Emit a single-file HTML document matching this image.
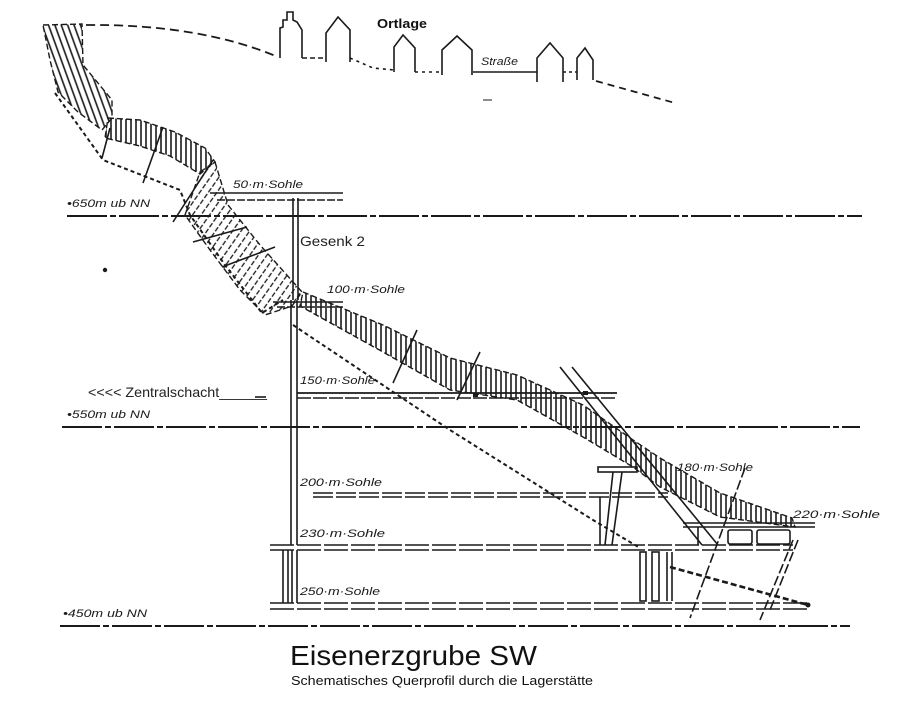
<!DOCTYPE html>
<html><head><meta charset="utf-8"><style>
html,body{margin:0;padding:0;background:#fff;}
svg{display:block;}
.hw{font-family:"Liberation Sans",sans-serif;font-style:italic;font-size:11px;fill:#1a1a1a;}
</style></head><body>
<svg width="900" height="712" viewBox="0 0 900 712" xmlns="http://www.w3.org/2000/svg">
<defs>
<pattern id="hv" patternUnits="userSpaceOnUse" width="5" height="6"><line x1="1" y1="0" x2="1" y2="6" stroke="#1a1a1a" stroke-width="1.6"/></pattern>
<pattern id="hd" patternUnits="userSpaceOnUse" width="6" height="6" patternTransform="rotate(-20)"><line x1="1" y1="0" x2="1" y2="6" stroke="#1a1a1a" stroke-width="1.6"/></pattern>
<pattern id="hs" patternUnits="userSpaceOnUse" width="7" height="7" patternTransform="rotate(35)"><line x1="1" y1="0" x2="1" y2="7" stroke="#1a1a1a" stroke-width="1.3" stroke-dasharray="3 2"/></pattern>
</defs>
<rect width="900" height="712" fill="#fff"/>

<g fill="none" stroke="#1a1a1a" stroke-width="1.6">
<!-- surface -->
<path d="M86,25 Q200,24 278,57" stroke-dasharray="9 5" stroke-width="1.8"/>
<polyline points="280,58 280,28 283,27 283,20 287,20 287,12 293,12 293,20 297,22 302,30 302,58"/>
<line x1="302" y1="58" x2="326" y2="58" stroke-dasharray="5 3"/>
<polyline points="326,62 326,33 338,17 350,30 350,62"/>
<polyline points="350,58 373,68 394,70" stroke-dasharray="3 4"/>
<polyline points="394,72 394,47 403,35 415,48 415,72"/>
<line x1="415" y1="72" x2="442" y2="72" stroke-dasharray="3 4"/>
<polyline points="442,75 442,50 457,36 472,50 472,75"/>
<line x1="473" y1="72" x2="537" y2="72"/>
<polyline points="537,82 537,58 550,43 563,58 563,82"/>
<line x1="563" y1="72" x2="577" y2="72" stroke-dasharray="3 3"/>
<polyline points="577,80 577,58 585,48 593,60 593,80"/>
<line x1="596" y1="81" x2="675" y2="103" stroke-dasharray="7 5" stroke-width="1.8"/>
<line x1="483" y1="100" x2="492" y2="100" stroke-width="1"/>

<!-- datum lines -->
<line x1="67" y1="216" x2="862" y2="216" stroke-width="2" stroke-dasharray="40 3 6 3"/>
<line x1="62" y1="427" x2="860" y2="427" stroke-width="2" stroke-dasharray="40 3 6 3"/>
<line x1="60" y1="626" x2="850" y2="626" stroke-width="2" stroke-dasharray="40 3 6 3"/>
</g>

<!-- ore bands -->
<g stroke="#1a1a1a" stroke-width="1.4" stroke-dasharray="6 3">
<polygon points="43,25 82,24 83,65 112,100 112,118 102,130 78,112 58,92 50,60" fill="url(#hd)"/>
<polygon points="108,118 140,120 175,132 205,148 215,162 200,174 170,156 140,146 105,138" fill="url(#hv)"/>
<polygon points="200,172 215,162 228,205 260,245 302,292 292,306 265,315 240,290 210,250 185,215" fill="url(#hs)"/>
<polygon points="303,292 383,325 450,358 517,375 583,405 633,440 660,458 720,493 792,518 795,527 720,517 660,487 633,467 583,437 517,400 450,390 383,352 300,306" fill="url(#hv)"/>
</g>

<g fill="none" stroke="#1a1a1a" stroke-width="1.6">
<!-- ticked footwall lines -->
<polyline points="55,93 103,160 180,190 190,215 225,265 262,313 283,300" stroke-dasharray="4 3" stroke-width="2"/>
<polyline points="293,325 450,430 593,520 640,548" stroke-dasharray="4 3" stroke-width="2"/>
<line x1="670" y1="567" x2="808" y2="605" stroke-dasharray="6 3" stroke-width="2.6"/>

<!-- section lines -->
<line x1="213" y1="160" x2="173" y2="222"/>
<line x1="163" y1="127" x2="143" y2="183"/>
<line x1="110" y1="128" x2="102" y2="158"/>
<line x1="193" y1="242" x2="247" y2="227"/>
<line x1="222" y1="267" x2="275" y2="247"/>
<line x1="417" y1="330" x2="393" y2="383"/>
<line x1="480" y1="352" x2="457" y2="400"/>
<line x1="745" y1="468" x2="690" y2="618" stroke-dasharray="10 3"/>
<line x1="793" y1="540" x2="760" y2="620" stroke-dasharray="10 3"/>
<line x1="798" y1="540" x2="770" y2="610" stroke-dasharray="10 3"/>

<!-- inclined double shaft -->
<line x1="560" y1="367" x2="702" y2="545"/>
<line x1="572" y1="367" x2="718" y2="545"/>

<!-- shafts -->
<line x1="293" y1="198" x2="293" y2="300"/>
<line x1="298" y1="198" x2="298" y2="300"/>
<line x1="291" y1="300" x2="291" y2="545"/>
<line x1="297" y1="300" x2="297" y2="545"/>
<line x1="283" y1="550" x2="283" y2="603"/>
<line x1="288" y1="550" x2="288" y2="603"/>
<line x1="292" y1="550" x2="292" y2="603"/>
<line x1="297" y1="550" x2="297" y2="603"/>

<!-- levels -->
<line x1="210" y1="193" x2="343" y2="193"/>
<line x1="217" y1="200" x2="343" y2="200" stroke-dasharray="8 2"/>
<line x1="273" y1="302" x2="343" y2="302"/>
<line x1="277" y1="307" x2="343" y2="307" stroke-dasharray="8 2"/>
<line x1="297" y1="393" x2="617" y2="393" stroke-width="1.8"/>
<line x1="297" y1="398" x2="617" y2="398" stroke-dasharray="14 2"/>
<line x1="255" y1="397" x2="266" y2="397"/>
<line x1="313" y1="493" x2="668" y2="493" stroke-dasharray="20 3"/>
<line x1="313" y1="497" x2="668" y2="497" stroke-dasharray="20 3"/>
<line x1="270" y1="545" x2="793" y2="545" stroke-dasharray="24 3"/>
<line x1="270" y1="550" x2="793" y2="550" stroke-dasharray="24 3"/>
<line x1="270" y1="603" x2="810" y2="603" stroke-dasharray="24 3"/>
<line x1="270" y1="609" x2="810" y2="609" stroke-dasharray="24 3"/>

<!-- 180 m structure -->
<rect x="598" y="467" width="39" height="5"/>
<line x1="613" y1="472" x2="605" y2="545"/>
<line x1="622" y1="472" x2="612" y2="545"/>
<line x1="600" y1="497" x2="600" y2="545"/>
<!-- 220 m -->
<line x1="683" y1="523" x2="815" y2="523"/>
<line x1="683" y1="527" x2="815" y2="527"/>
<line x1="698" y1="527" x2="698" y2="545"/>
<rect x="728" y="530" width="24" height="14" rx="2"/>
<rect x="757" y="530" width="33" height="14" rx="2"/>
<!-- shafts between 230 and 250 -->
<rect x="640" y="552" width="6" height="49"/>
<rect x="652" y="552" width="7" height="49"/>
<line x1="667" y1="552" x2="667" y2="601"/>
<line x1="672" y1="552" x2="672" y2="601"/>
</g>
<rect x="473" y="393" width="5" height="4" fill="#1a1a1a"/>
<rect x="583" y="391" width="5" height="4" fill="#1a1a1a"/>
<circle cx="105" cy="270" r="2.2" fill="#1a1a1a"/>
<circle cx="808" cy="605" r="2.5" fill="#1a1a1a"/>

<!-- handwritten labels -->
<text class="hw" x="233" y="188" textLength="70" lengthAdjust="spacingAndGlyphs">50·m·Sohle</text>
<text class="hw" x="327" y="293" textLength="78" lengthAdjust="spacingAndGlyphs">100·m·Sohle</text>
<text class="hw" x="300" y="384" textLength="75" lengthAdjust="spacingAndGlyphs">150·m·Sohle</text>
<text class="hw" x="300" y="486" textLength="82" lengthAdjust="spacingAndGlyphs">200·m·Sohle</text>
<text class="hw" x="300" y="537" textLength="85" lengthAdjust="spacingAndGlyphs">230·m·Sohle</text>
<text class="hw" x="300" y="595" textLength="80" lengthAdjust="spacingAndGlyphs">250·m·Sohle</text>
<text class="hw" x="677" y="471" textLength="76" lengthAdjust="spacingAndGlyphs">180·m·Sohle</text>
<text class="hw" x="793" y="518" textLength="87" lengthAdjust="spacingAndGlyphs">220·m·Sohle</text>
<text class="hw" x="67" y="207" textLength="83" lengthAdjust="spacingAndGlyphs">•650m ub NN</text>
<text class="hw" x="67" y="418" textLength="83" lengthAdjust="spacingAndGlyphs">•550m ub NN</text>
<text class="hw" x="63" y="617" textLength="84" lengthAdjust="spacingAndGlyphs">•450m ub NN</text>
<text class="hw" x="481" y="65" textLength="37" lengthAdjust="spacingAndGlyphs">Straße</text>

<text x="377" y="28" font-family="Liberation Sans, sans-serif" font-weight="bold" font-size="13" fill="#111" textLength="50" lengthAdjust="spacingAndGlyphs">Ortlage</text>
<text x="300" y="246" font-family="Liberation Sans, sans-serif" font-size="14" fill="#222" textLength="65" lengthAdjust="spacingAndGlyphs">Gesenk 2</text>
<text x="88" y="397" font-family="Liberation Sans, sans-serif" font-size="14" fill="#222" textLength="179" lengthAdjust="spacingAndGlyphs">&lt;&lt;&lt;&lt; Zentralschacht______</text>

<text x="290" y="665" font-family="Liberation Sans, sans-serif" font-size="28" fill="#111" textLength="247" lengthAdjust="spacingAndGlyphs">Eisenerzgrube SW</text>
<text x="291" y="685" font-family="Liberation Sans, sans-serif" font-size="13" fill="#111" textLength="302" lengthAdjust="spacingAndGlyphs">Schematisches Querprofil durch die Lagerstätte</text>
</svg>
</body></html>
